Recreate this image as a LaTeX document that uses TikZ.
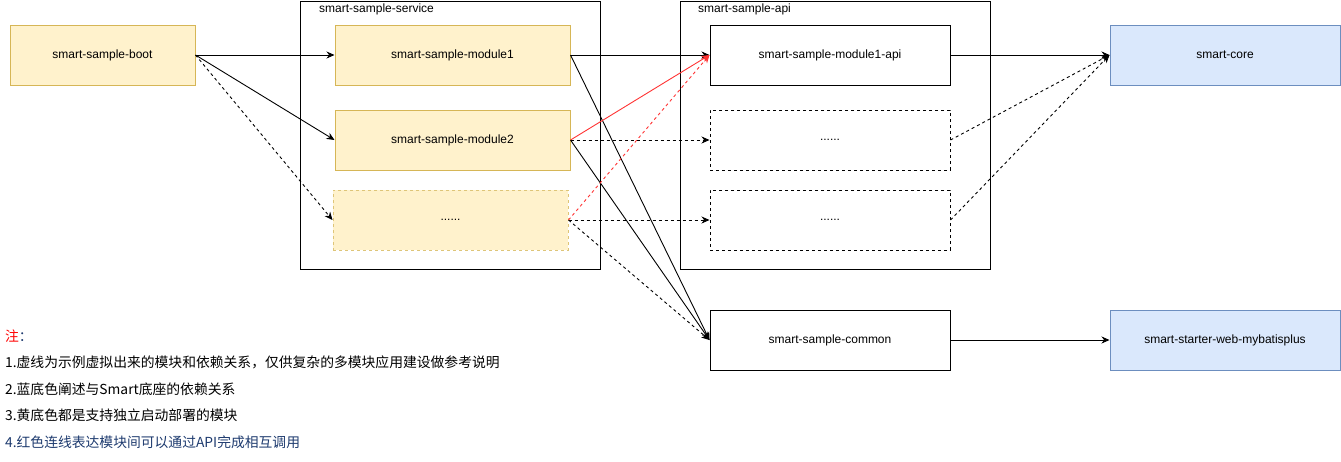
\documentclass[tikz,border=0pt]{standalone}
\usepackage{fontspec}
\setmainfont{Liberation Sans}
\newfontfamily\cjk{Noto Sans CJK SC}
\usetikzlibrary{arrows.meta}
\definecolor{yfill}{HTML}{FFF2CC}
\definecolor{yline}{HTML}{D6B656}
\definecolor{bfill}{HTML}{DAE8FC}
\definecolor{bline}{HTML}{6C8EBF}
\definecolor{notered}{HTML}{FF0000}
\definecolor{noteblue}{HTML}{1D3A6E}
\definecolor{redline}{HTML}{FF3333}
\tikzset{
  box/.style={draw, line width=1pt, minimum height=60pt, inner sep=0pt,
    font=\fontsize{12}{14}\selectfont},
  ybox/.style={box, fill=yfill, draw=yline},
  bbox/.style={box, fill=bfill, draw=bline},
  dbox/.style={box, dashed, dash pattern=on 3pt off 3pt},
  conn/.style={line width=0.9pt, -{Stealth[length=8pt,width=7pt]}},
  dconn/.style={conn, dash pattern=on 3pt off 3pt},
  note/.style={anchor=west, inner sep=0pt, font=\fontsize{13.8}{16}\selectfont\cjk}
}
\begin{document}
\begin{tikzpicture}[x=1pt, y=-1pt]
  \useasboundingbox (0,0) rectangle (1341,461);
  % containers
  \draw[line width=1pt] (300.5,1) rectangle (600,269);
  \node[anchor=west, inner sep=0pt, font=\fontsize{12}{14}\selectfont] (servicelbl) at (319,9.5) {smart-sample-service};
  \draw[line width=1pt] (680,1) rectangle (990,269);
  \node[anchor=west, inner sep=0pt, font=\fontsize{12}{14}\selectfont] (apilbl) at (698,9.5) {smart-sample-api};
  % modules
  \node[ybox, minimum width=185pt] (boot) at (102.5,55) {smart-sample-boot};
  \node[ybox, minimum width=235pt] (mod1) at (452.5,55) {smart-sample-module1};
  \node[ybox, minimum width=235pt] (mod2) at (452.5,140) {smart-sample-module2};
  \node[ybox, dashed, dash pattern=on 3pt off 3pt, draw=yline!80, minimum width=235pt] (moddots) at (450.5,220) {......};
  \node[box, minimum width=240pt] (api1) at (830,55) {smart-sample-module1-api};
  \node[dbox, minimum width=240pt] (apidots1) at (830,140) {......};
  \node[dbox, minimum width=240pt] (apidots2) at (830,220) {......};
  \node[box, minimum width=240pt] (common) at (830,340) {smart-sample-common};
  \node[bbox, minimum width=230pt] (core) at (1225,55) {smart-core};
  \node[bbox, minimum width=230pt] (mybatis) at (1225,340) {smart-starter-web-mybatisplus};
  % connectors
  \draw[conn] (boot.east) -- (mod1.west);
  \draw[conn] (boot.east) -- (mod2.west);
  \draw[dconn] (boot.east) -- (moddots.west);
  \draw[conn] (mod1.east) -- (api1.west);
  \draw[conn] (mod1.east) -- (common.west);
  \draw[conn] (mod2.east) -- (common.west);
  \draw[dconn] (moddots.east) -- (common.west);
  \draw[dconn] (mod2.east) -- (apidots1.west);
  \draw[dconn] (moddots.east) -- (apidots2.west);
  \draw[conn, redline] (mod2.east) -- (api1.west);
  \draw[dconn, redline] (moddots.east) -- (api1.west);
  \draw[conn] (api1.east) -- (core.west);
  \draw[dconn] (apidots1.east) -- (core.west);
  \draw[dconn] (apidots2.east) -- (core.west);
  \draw[conn] (common.east) -- (mybatis.west);
  % notes
  \node[note] (n0) at (5,336) {\textcolor{notered}{注}\textcolor{noteblue}{：}};
  \node[note] (n1) at (5,362) {1.虚线为示例虚拟出来的模块和依赖关系，仅供复杂的多模块应用建设做参考说明};
  \node[note] (n2) at (5,389) {2.蓝底色阐述与Smart底座的依赖关系};
  \node[note] (n3) at (5,415) {3.黄底色都是支持独立启动部署的模块};
  \node[note, text=noteblue] (n4) at (5,442) {4.红色连线表达模块间可以通过API完成相互调用};
\end{tikzpicture}
\end{document}
